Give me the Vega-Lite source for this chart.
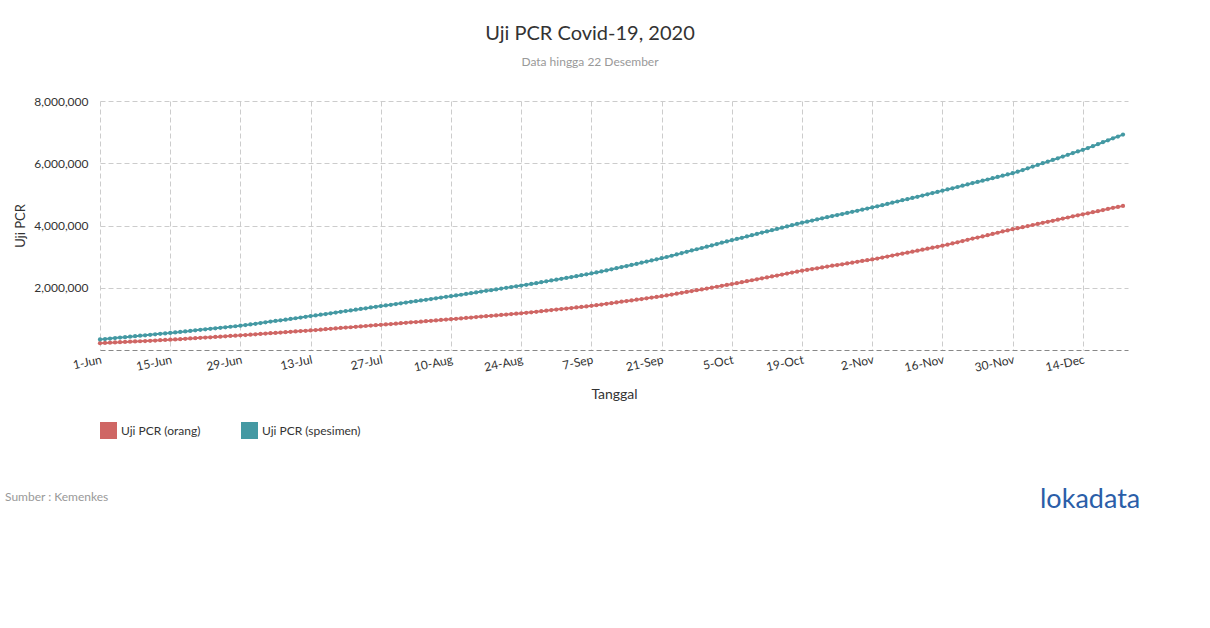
{
  "$schema": "https://vega.github.io/schema/vega-lite/v6.json",
  "width": 1028,
  "height": 249,
  "autosize": {"type": "none"},
  "padding": {"left": 100, "top": 101, "right": 82, "bottom": 278},
  "background": "white",
  "config": {
    "font": "Lato",
    "view": {"stroke": null},
    "legend": {
      "orient": "none",
      "legendX": 0,
      "legendY": 321,
      "direction": "horizontal",
      "symbolType": "square",
      "symbolSize": 289,
      "symbolStrokeWidth": 0,
      "symbolOpacity": 1,
      "labelFontSize": 12,
      "labelColor": "#333333",
      "labelOffset": 4,
      "columnPadding": 40
    }
  },
  "title": {
    "text": "Uji PCR Covid-19, 2020",
    "subtitle": "Data hingga 22 Desember",
    "anchor": "middle",
    "frame": "group",
    "dx": -24,
    "offset": 27,
    "font": "Lato",
    "fontSize": 20,
    "fontWeight": "normal",
    "color": "#333333",
    "subtitleFont": "Lato",
    "subtitleFontSize": 12,
    "subtitleColor": "#999999",
    "subtitlePadding": 13
  },
  "datasets": {
    "pcr": [
{"d":"2020/06/01","o":220000,"s":340000},
{"d":"2020/06/02","o":227000,"s":353000},
{"d":"2020/06/03","o":234000,"s":367000},
{"d":"2020/06/04","o":242000,"s":382000},
{"d":"2020/06/05","o":250000,"s":398000},
{"d":"2020/06/06","o":258000,"s":413000},
{"d":"2020/06/07","o":267000,"s":429000},
{"d":"2020/06/08","o":274000,"s":443000},
{"d":"2020/06/09","o":281000,"s":458000},
{"d":"2020/06/10","o":289000,"s":472000},
{"d":"2020/06/11","o":297000,"s":488000},
{"d":"2020/06/12","o":305000,"s":503000},
{"d":"2020/06/13","o":314000,"s":519000},
{"d":"2020/06/14","o":322000,"s":534000},
{"d":"2020/06/15","o":330000,"s":550000},
{"d":"2020/06/16","o":339000,"s":565000},
{"d":"2020/06/17","o":349000,"s":581000},
{"d":"2020/06/18","o":359000,"s":598000},
{"d":"2020/06/19","o":370000,"s":614000},
{"d":"2020/06/20","o":380000,"s":631000},
{"d":"2020/06/21","o":391000,"s":649000},
{"d":"2020/06/22","o":400000,"s":664000},
{"d":"2020/06/23","o":409000,"s":680000},
{"d":"2020/06/24","o":419000,"s":697000},
{"d":"2020/06/25","o":429000,"s":713000},
{"d":"2020/06/26","o":440000,"s":730000},
{"d":"2020/06/27","o":451000,"s":747000},
{"d":"2020/06/28","o":460000,"s":763000},
{"d":"2020/06/29","o":470000,"s":780000},
{"d":"2020/06/30","o":480000,"s":800000},
{"d":"2020/07/01","o":491000,"s":821000},
{"d":"2020/07/02","o":503000,"s":843000},
{"d":"2020/07/03","o":515000,"s":866000},
{"d":"2020/07/04","o":527000,"s":888000},
{"d":"2020/07/05","o":540000,"s":912000},
{"d":"2020/07/06","o":550000,"s":932000},
{"d":"2020/07/07","o":561000,"s":953000},
{"d":"2020/07/08","o":572000,"s":975000},
{"d":"2020/07/09","o":584000,"s":998000},
{"d":"2020/07/10","o":596000,"s":1020000},
{"d":"2020/07/11","o":608000,"s":1044000},
{"d":"2020/07/12","o":618000,"s":1066000},
{"d":"2020/07/13","o":630000,"s":1090000},
{"d":"2020/07/14","o":642000,"s":1111000},
{"d":"2020/07/15","o":654000,"s":1133000},
{"d":"2020/07/16","o":667000,"s":1156000},
{"d":"2020/07/17","o":681000,"s":1180000},
{"d":"2020/07/18","o":694000,"s":1203000},
{"d":"2020/07/19","o":708000,"s":1228000},
{"d":"2020/07/20","o":719000,"s":1249000},
{"d":"2020/07/21","o":731000,"s":1271000},
{"d":"2020/07/22","o":744000,"s":1294000},
{"d":"2020/07/23","o":758000,"s":1318000},
{"d":"2020/07/24","o":771000,"s":1341000},
{"d":"2020/07/25","o":785000,"s":1366000},
{"d":"2020/07/26","o":797000,"s":1387000},
{"d":"2020/07/27","o":810000,"s":1410000},
{"d":"2020/07/28","o":822000,"s":1431000},
{"d":"2020/07/29","o":834000,"s":1453000},
{"d":"2020/07/30","o":847000,"s":1476000},
{"d":"2020/07/31","o":861000,"s":1500000},
{"d":"2020/08/01","o":874000,"s":1523000},
{"d":"2020/08/02","o":888000,"s":1548000},
{"d":"2020/08/03","o":899000,"s":1569000},
{"d":"2020/08/04","o":911000,"s":1591000},
{"d":"2020/08/05","o":924000,"s":1614000},
{"d":"2020/08/06","o":938000,"s":1638000},
{"d":"2020/08/07","o":951000,"s":1661000},
{"d":"2020/08/08","o":965000,"s":1686000},
{"d":"2020/08/09","o":977000,"s":1707000},
{"d":"2020/08/10","o":990000,"s":1730000},
{"d":"2020/08/11","o":1003000,"s":1752000},
{"d":"2020/08/12","o":1016000,"s":1775000},
{"d":"2020/08/13","o":1030000,"s":1800000},
{"d":"2020/08/14","o":1044000,"s":1826000},
{"d":"2020/08/15","o":1058000,"s":1851000},
{"d":"2020/08/16","o":1073000,"s":1878000},
{"d":"2020/08/17","o":1085000,"s":1900000},
{"d":"2020/08/18","o":1098000,"s":1923000},
{"d":"2020/08/19","o":1111000,"s":1947000},
{"d":"2020/08/20","o":1125000,"s":1972000},
{"d":"2020/08/21","o":1139000,"s":1996000},
{"d":"2020/08/22","o":1154000,"s":2022000},
{"d":"2020/08/23","o":1167000,"s":2045000},
{"d":"2020/08/24","o":1180000,"s":2070000},
{"d":"2020/08/25","o":1195000,"s":2095000},
{"d":"2020/08/26","o":1211000,"s":2121000},
{"d":"2020/08/27","o":1228000,"s":2148000},
{"d":"2020/08/28","o":1246000,"s":2177000},
{"d":"2020/08/29","o":1264000,"s":2205000},
{"d":"2020/08/30","o":1283000,"s":2235000},
{"d":"2020/08/31","o":1298000,"s":2260000},
{"d":"2020/09/01","o":1314000,"s":2287000},
{"d":"2020/09/02","o":1331000,"s":2315000},
{"d":"2020/09/03","o":1349000,"s":2344000},
{"d":"2020/09/04","o":1366000,"s":2372000},
{"d":"2020/09/05","o":1385000,"s":2403000},
{"d":"2020/09/06","o":1401000,"s":2430000},
{"d":"2020/09/07","o":1420000,"s":2460000},
{"d":"2020/09/08","o":1440000,"s":2491000},
{"d":"2020/09/09","o":1461000,"s":2524000},
{"d":"2020/09/10","o":1483000,"s":2558000},
{"d":"2020/09/11","o":1506000,"s":2594000},
{"d":"2020/09/12","o":1528000,"s":2629000},
{"d":"2020/09/13","o":1552000,"s":2666000},
{"d":"2020/09/14","o":1572000,"s":2698000},
{"d":"2020/09/15","o":1593000,"s":2732000},
{"d":"2020/09/16","o":1615000,"s":2767000},
{"d":"2020/09/17","o":1638000,"s":2804000},
{"d":"2020/09/18","o":1660000,"s":2840000},
{"d":"2020/09/19","o":1684000,"s":2878000},
{"d":"2020/09/20","o":1706000,"s":2912000},
{"d":"2020/09/21","o":1730000,"s":2950000},
{"d":"2020/09/22","o":1755000,"s":2988000},
{"d":"2020/09/23","o":1781000,"s":3028000},
{"d":"2020/09/24","o":1808000,"s":3070000},
{"d":"2020/09/25","o":1837000,"s":3113000},
{"d":"2020/09/26","o":1865000,"s":3155000},
{"d":"2020/09/27","o":1895000,"s":3199000},
{"d":"2020/09/28","o":1920000,"s":3237000},
{"d":"2020/09/29","o":1947000,"s":3277000},
{"d":"2020/09/30","o":1975000,"s":3318000},
{"d":"2020/10/01","o":2004000,"s":3361000},
{"d":"2020/10/02","o":2032000,"s":3403000},
{"d":"2020/10/03","o":2063000,"s":3448000},
{"d":"2020/10/04","o":2090000,"s":3487000},
{"d":"2020/10/05","o":2120000,"s":3530000},
{"d":"2020/10/06","o":2148000,"s":3567000},
{"d":"2020/10/07","o":2178000,"s":3606000},
{"d":"2020/10/08","o":2209000,"s":3647000},
{"d":"2020/10/09","o":2241000,"s":3689000},
{"d":"2020/10/10","o":2272000,"s":3730000},
{"d":"2020/10/11","o":2305000,"s":3773000},
{"d":"2020/10/12","o":2333000,"s":3810000},
{"d":"2020/10/13","o":2362000,"s":3848000},
{"d":"2020/10/14","o":2393000,"s":3888000},
{"d":"2020/10/15","o":2425000,"s":3929000},
{"d":"2020/10/16","o":2456000,"s":3969000},
{"d":"2020/10/17","o":2489000,"s":4011000},
{"d":"2020/10/18","o":2518000,"s":4049000},
{"d":"2020/10/19","o":2550000,"s":4090000},
{"d":"2020/10/20","o":2574000,"s":4123000},
{"d":"2020/10/21","o":2599000,"s":4158000},
{"d":"2020/10/22","o":2626000,"s":4194000},
{"d":"2020/10/23","o":2653000,"s":4231000},
{"d":"2020/10/24","o":2679000,"s":4266000},
{"d":"2020/10/25","o":2707000,"s":4303000},
{"d":"2020/10/26","o":2730000,"s":4334000},
{"d":"2020/10/27","o":2754000,"s":4367000},
{"d":"2020/10/28","o":2780000,"s":4402000},
{"d":"2020/10/29","o":2807000,"s":4438000},
{"d":"2020/10/30","o":2833000,"s":4473000},
{"d":"2020/10/31","o":2860000,"s":4510000},
{"d":"2020/11/01","o":2884000,"s":4543000},
{"d":"2020/11/02","o":2910000,"s":4580000},
{"d":"2020/11/03","o":2939000,"s":4616000},
{"d":"2020/11/04","o":2969000,"s":4653000},
{"d":"2020/11/05","o":3001000,"s":4692000},
{"d":"2020/11/06","o":3034000,"s":4732000},
{"d":"2020/11/07","o":3066000,"s":4771000},
{"d":"2020/11/08","o":3100000,"s":4812000},
{"d":"2020/11/09","o":3128000,"s":4847000},
{"d":"2020/11/10","o":3158000,"s":4884000},
{"d":"2020/11/11","o":3189000,"s":4922000},
{"d":"2020/11/12","o":3222000,"s":4962000},
{"d":"2020/11/13","o":3254000,"s":5001000},
{"d":"2020/11/14","o":3288000,"s":5042000},
{"d":"2020/11/15","o":3317000,"s":5079000},
{"d":"2020/11/16","o":3350000,"s":5120000},
{"d":"2020/11/17","o":3385000,"s":5157000},
{"d":"2020/11/18","o":3422000,"s":5196000},
{"d":"2020/11/19","o":3461000,"s":5237000},
{"d":"2020/11/20","o":3501000,"s":5279000},
{"d":"2020/11/21","o":3539000,"s":5320000},
{"d":"2020/11/22","o":3580000,"s":5363000},
{"d":"2020/11/23","o":3614000,"s":5400000},
{"d":"2020/11/24","o":3650000,"s":5438000},
{"d":"2020/11/25","o":3688000,"s":5478000},
{"d":"2020/11/26","o":3728000,"s":5519000},
{"d":"2020/11/27","o":3767000,"s":5559000},
{"d":"2020/11/28","o":3808000,"s":5601000},
{"d":"2020/11/29","o":3843000,"s":5639000},
{"d":"2020/11/30","o":3880000,"s":5680000},
{"d":"2020/12/01","o":3912000,"s":5730000},
{"d":"2020/12/02","o":3945000,"s":5782000},
{"d":"2020/12/03","o":3980000,"s":5837000},
{"d":"2020/12/04","o":4016000,"s":5893000},
{"d":"2020/12/05","o":4051000,"s":5947000},
{"d":"2020/12/06","o":4088000,"s":6004000},
{"d":"2020/12/07","o":4119000,"s":6053000},
{"d":"2020/12/08","o":4152000,"s":6105000},
{"d":"2020/12/09","o":4186000,"s":6159000},
{"d":"2020/12/10","o":4222000,"s":6215000},
{"d":"2020/12/11","o":4257000,"s":6270000},
{"d":"2020/12/12","o":4294000,"s":6328000},
{"d":"2020/12/13","o":4326000,"s":6378000},
{"d":"2020/12/14","o":4360000,"s":6430000},
{"d":"2020/12/15","o":4392000,"s":6488000},
{"d":"2020/12/16","o":4426000,"s":6549000},
{"d":"2020/12/17","o":4461000,"s":6612000},
{"d":"2020/12/18","o":4497000,"s":6676000},
{"d":"2020/12/19","o":4531000,"s":6738000},
{"d":"2020/12/20","o":4567000,"s":6803000},
{"d":"2020/12/21","o":4597000,"s":6859000},
{"d":"2020/12/22","o":4630000,"s":6920000}
    ],
    "notes": [{"t": "Sumber : Kemenkes"}],
    "logo": [{"t": "lokadata"}]
  },
  "layer": [
    {
      "data": {"name": "pcr"},
      "transform": [{"fold": ["o", "s"], "as": ["k", "v"]}],
      "encoding": {
        "x": {
          "field": "d", "type": "temporal",
          "scale": {"domain": [{"year": 2020, "month": 6, "date": 1}, {"year": 2020, "month": 12, "date": 23}], "nice": false},
          "axis": {
            "title": "Tanggal",
            "values": [
              {"year": 2020, "month": 6, "date": 1},
              {"year": 2020, "month": 6, "date": 15},
              {"year": 2020, "month": 6, "date": 29},
              {"year": 2020, "month": 7, "date": 13},
              {"year": 2020, "month": 7, "date": 27},
              {"year": 2020, "month": 8, "date": 10},
              {"year": 2020, "month": 8, "date": 24},
              {"year": 2020, "month": 9, "date": 7},
              {"year": 2020, "month": 9, "date": 21},
              {"year": 2020, "month": 10, "date": 5},
              {"year": 2020, "month": 10, "date": 19},
              {"year": 2020, "month": 11, "date": 2},
              {"year": 2020, "month": 11, "date": 16},
              {"year": 2020, "month": 11, "date": 30},
              {"year": 2020, "month": 12, "date": 14}
            ],
            "format": "%-d-%b",
            "labelAngle": -12,
            "labelAlign": "right",
            "labelBaseline": "top",
            "labelFontSize": 12,
            "labelColor": "#333333",
            "labelPadding": 4,
            "labelFlush": false,
            "labelOverlap": false,
            "ticks": false,
            "tickSize": 0,
            "grid": true,
            "gridColor": "#cccccc",
            "gridDash": [5, 3],
            "domain": true,
            "domainColor": "#888888",
            "domainDash": [5, 3],
            "domainWidth": 1,
            "titleFontSize": 14,
            "titleFontWeight": "normal",
            "titleColor": "#333333",
            "titlePadding": 14
          }
        },
        "y": {
          "field": "v", "type": "quantitative",
          "scale": {"domain": [0, 8000000], "nice": false},
          "axis": {
            "title": "Uji PCR",
            "values": [2000000, 4000000, 6000000, 8000000],
            "format": ",d",
            "labelFontSize": 12,
            "labelColor": "#333333",
            "labelPadding": 12,
            "ticks": false,
            "tickSize": 0,
            "domain": false,
            "grid": true,
            "gridColor": "#cccccc",
            "gridDash": [5, 3],
            "titleFontSize": 13,
            "titleFontWeight": "normal",
            "titleColor": "#333333",
            "titlePadding": 6
          }
        },
        "color": {
          "field": "k", "type": "nominal",
          "scale": {"domain": ["o", "s"], "range": ["#cf6664", "#4499a3"]},
          "legend": {
            "title": null,
            "labelExpr": "datum.label == 'o' ? 'Uji PCR (orang)' : 'Uji PCR (spesimen)'"
          }
        }
      },
      "layer": [
        {"mark": {"type": "line", "strokeWidth": 2}},
        {"mark": {"type": "point", "filled": true, "size": 18, "opacity": 1}}
      ]
    },
    {
      "data": {"name": "notes"},
      "mark": {"type": "text", "align": "left", "baseline": "middle", "fontSize": 12, "color": "#999999", "font": "Lato"},
      "encoding": {
        "text": {"field": "t"},
        "x": {"value": -95},
        "y": {"value": 396}
      }
    },
    {
      "data": {"name": "logo"},
      "mark": {"type": "text", "align": "left", "baseline": "middle", "fontSize": 27, "color": "#2b5ea8", "font": "Lato"},
      "encoding": {
        "text": {"field": "t"},
        "x": {"value": 940},
        "y": {"value": 399}
      }
    }
  ]
}
